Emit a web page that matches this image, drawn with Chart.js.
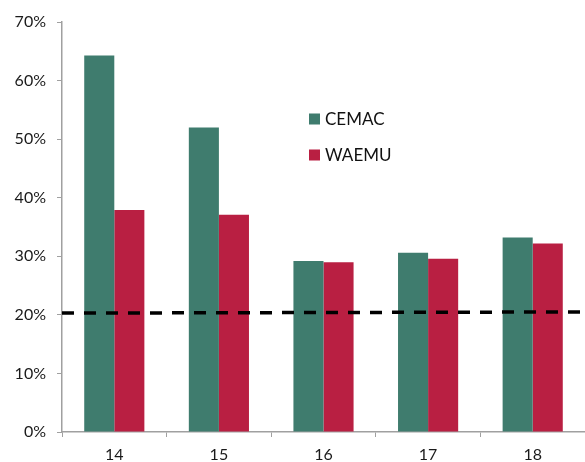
<!DOCTYPE html>
<html>
<head>
<meta charset="utf-8">
<script src="https://cdn.jsdelivr.net/npm/chart.js@4/dist/chart.umd.min.js"></script>
<style>
  html, body { margin: 0; padding: 0; background: #fff; }
  #wrap { width: 585px; height: 462px; }
</style>
</head>
<body>
<div id="wrap"><canvas id="chart" width="585" height="462"></canvas></div>
<script>
// datos
const years = ['14', '15', '16', '17', '18'];
const cemac = [64.3, 52.0, 29.2, 30.6, 33.2];
const waemu = [37.9, 37.1, 29.0, 29.6, 32.2];
const umbral = [20.3, 20.5]; // linea punteada, extremo izq. y der.
const yTicks = [0, 10, 20, 30, 40, 50, 60, 70];

const VERDE = '#3f7c6e';
const ROJO = '#b91f42';
const EJE = '#a0a0a0';

Chart.defaults.font.family = 'Lato, "Open Sans", sans-serif';
Chart.defaults.font.size = 16;
Chart.defaults.color = '#1a1a1a';

// linea de referencia punteada, usando la escala Y del grafico
const referencia = {
    id: 'referencia',
    afterDatasetsDraw(chart) {
        const { ctx, chartArea, scales } = chart;
        ctx.save();
        ctx.strokeStyle = '#000';
        ctx.lineWidth = 3.5;
        ctx.setLineDash([12, 10]);
        ctx.beginPath();
        ctx.moveTo(chartArea.left, scales.y.getPixelForValue(umbral[0]));
        ctx.lineTo(chartArea.right, scales.y.getPixelForValue(umbral[1]));
        ctx.stroke();
        ctx.restore();
    }
};

// leyenda dibujada a mano dentro del area
const leyenda = {
    id: 'leyenda',
    afterDraw(chart) {
        const ctx = chart.ctx;
        const items = [['CEMAC', VERDE], ['WAEMU', ROJO]];
        ctx.save();
        ctx.font = '17px Lato, sans-serif';
        ctx.textBaseline = 'middle';
        items.forEach((it, i) => {
            const y = 119 + i * 36;
            ctx.fillStyle = it[1];
            ctx.fillRect(309, y - 5.5, 11, 11);
            ctx.fillStyle = '#111';
            ctx.fillText(it[0], 325, y + 1);
        });
        ctx.restore();
    }
};

new Chart(document.getElementById('chart').getContext('2d'), {
    type: 'bar',
    data: {
        labels: years,
        datasets: [
            { label: 'CEMAC', data: cemac, backgroundColor: VERDE },
            { label: 'WAEMU', data: waemu, backgroundColor: ROJO }
        ]
    },
    options: {
        responsive: false,
        animation: false,
        layout: { padding: { top: 22, right: 0, left: 0, bottom: 0 } },
        datasets: { bar: { barPercentage: 1.0, categoryPercentage: 0.575 } },
        plugins: { legend: { display: false }, tooltip: { enabled: false } },
        scales: {
            x: {
                offset: true,
                border: { color: EJE, width: 1.5 },
                grid: { display: true, drawOnChartArea: false, color: EJE, tickLength: 5, offset: true },
                ticks: { padding: 8 },
                afterFit(s) { s.height = 30; }
            },
            y: {
                min: 0, max: 70,
                afterBuildTicks(s) { s.ticks = yTicks.map(v => ({ value: v })); },
                border: { color: EJE, width: 1.5 },
                grid: { display: true, drawOnChartArea: false, color: EJE, tickLength: 5 },
                ticks: { padding: 11, callback: v => v + '%' },
                afterFit(s) { s.width = 62; }
            }
        }
    },
    plugins: [referencia, leyenda]
});
</script>
</body>
</html>
